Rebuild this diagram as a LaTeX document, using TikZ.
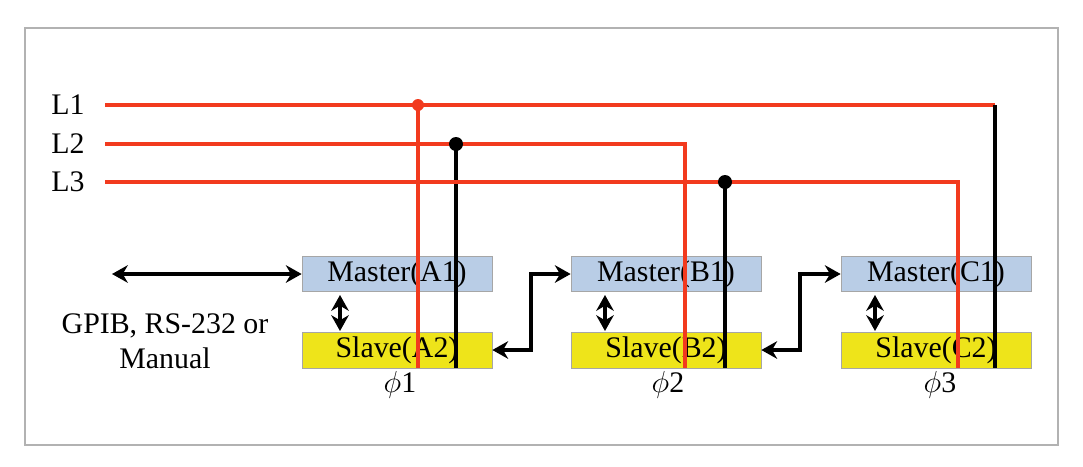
\documentclass[tikz,border=0pt]{standalone}
\usepackage{fontspec}
\setmainfont{Liberation Serif}
\usetikzlibrary{positioning, arrows.meta}
\definecolor{wirered}{HTML}{F23A1E}
\definecolor{masterblue}{HTML}{B9CDE6}
\definecolor{slaveyellow}{HTML}{EEE41A}

\begin{document}
\begin{tikzpicture}[x=0.02cm, y=-0.02cm, font=\fontsize{17}{20}\selectfont,
  master/.style = {draw=gray!70, fill=masterblue, minimum width=3.8cm, minimum height=0.7cm, inner sep=0pt},
  slave/.style = {draw=gray!70, fill=slaveyellow, minimum width=3.8cm, minimum height=0.72cm, inner sep=0pt},
  red wire/.style = {wirered, line width=1.8pt},
  black wire/.style = {black, line width=1.8pt},
  link/.style = {black, line width=2.4pt, {Stealth[length=9pt,width=10pt]}-{Stealth[length=9pt,width=10pt]}}]
\useasboundingbox (0,0) rectangle (1083,467);
\draw[gray!60, line width=1.5pt] (25,28) rectangle (1058,445);

% units
\node[master] (A1) at (397,274) {Master(A1)};
\node[slave] (A2) at (397,350) {Slave(A2)};
\node[master] (B1) at (666,274) {Master(B1)};
\node[slave] (B2) at (666,350) {Slave(B2)};
\node[master] (C1) at (936,274) {Master(C1)};
\node[slave] (C2) at (936,350) {Slave(C2)};
\node (p1) at (400,385) {$\phi$1};
\node (p2) at (668,385) {$\phi$2};
\node (p3) at (940,385) {$\phi$3};

% lines
\node (L1) at (68,105) {L1};
\node (L2) at (68,144) {L2};
\node (L3) at (68,182) {L3};
\draw[red wire] (105,105) -- (995,105);
\draw[black wire] (995,105) -- (995,368);
\draw[red wire] (418,105) -- (418,368);
\fill[wirered] (418,105) circle (6);
\draw[red wire] (105,144) -- (685,144) -- (685,368);
\draw[black wire] (456,144) -- (456,368);
\fill (456,144) circle (7);
\draw[red wire] (105,182) -- (958,182) -- (958,368);
\draw[black wire] (725,182) -- (725,368);
\fill (725,182) circle (7);

% links
\coordinate (host) at (112,274);
\draw[link] (host) -- (A1.west);
\foreach \x in {340, 605, 875}
  \draw[link] (\x,295) -- (\x,331);
\draw[link] (A2.east) -| (531,274) -- (B1.west);
\draw[link] (B2.east) -| (800,274) -- (C1.west);
\node[align=center] (host label) at (165,341) {GPIB, RS-232 or\\Manual};
\end{tikzpicture}
\end{document}
